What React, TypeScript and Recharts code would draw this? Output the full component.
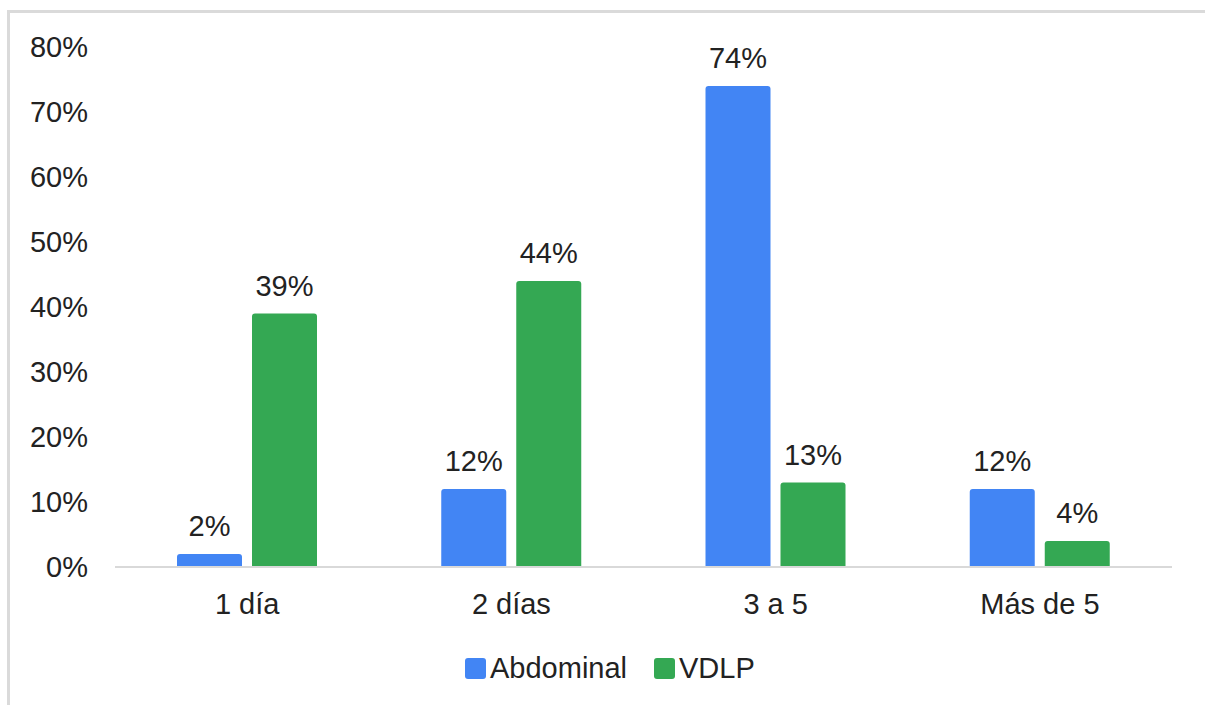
import React from "react";
import { BarChart, Bar, XAxis, YAxis, Legend, LabelList } from "recharts";

const categories = ["1 día", "2 días", "3 a 5", "Más de 5"];
const abdominal = [2, 12, 74, 12];
const vdlp = [39, 44, 13, 4];
const yTicks = [0, 10, 20, 30, 40, 50, 60, 70, 80];

const BLUE = "#4285F4";
const GREEN = "#34A853";
const TEXT = "#222222";
const FONT = "'Liberation Sans', Arial, sans-serif";
const FS = 29;

const data = categories.map((name, i) => ({
  name,
  Abdominal: abdominal[i],
  VDLP: vdlp[i],
}));

const pct = (v: number) => `${v}%`;

// leyenda con cuadros redondeados
const LegendContent = () => (
  <div
    style={{
      display: "flex",
      alignItems: "center",
      fontFamily: FONT,
      fontSize: FS,
      color: TEXT,
      lineHeight: "32px",
      height: 32,
    }}
  >
    {[
      { label: "Abdominal", color: BLUE },
      { label: "VDLP", color: GREEN },
    ].map((item, i) => (
      <div key={item.label} style={{ display: "flex", alignItems: "center", marginLeft: i ? 27 : 0 }}>
        <span
          style={{
            display: "inline-block",
            width: 21,
            height: 21,
            borderRadius: 3,
            background: item.color,
            marginRight: 4,
          }}
        />
        <span>{item.label}</span>
      </div>
    ))}
  </div>
);

export default function App() {
  return (
    <div
      style={{
        position: "absolute",
        left: 0,
        top: 0,
        width: 1205,
        height: 705,
        overflow: "hidden",
        background: "#fff",
      }}
    >
      {/* marco gris */}
      <div
        style={{
          position: "absolute",
          left: 7,
          top: 10,
          width: 1300,
          height: 800,
          borderTop: "3px solid #dadada",
          borderLeft: "3px solid #dadada",
        }}
      />
      <div style={{ position: "absolute", left: 0, top: 0 }}>
        <BarChart
          width={1205}
          height={705}
          data={data}
          margin={{ top: 47, right: 33, bottom: 46, left: 15 }}
          barSize={65}
          barGap={10}
        >
          <XAxis
            dataKey="name"
            tickLine={false}
            tickSize={0}
            tickMargin={26}
            axisLine={{ stroke: "#d9d9d9", strokeWidth: 2 }}
            tick={{ fill: TEXT, fontSize: FS, fontFamily: FONT }}
            height={60}
          />
          <YAxis
            width={100}
            domain={[0, 80]}
            ticks={yTicks}
            tickFormatter={pct}
            axisLine={false}
            tickLine={false}
            tickSize={0}
            tickMargin={27}
            tick={{ fill: TEXT, fontSize: FS, fontFamily: FONT }}
          />
          <Legend
            content={<LegendContent />}
            wrapperStyle={{ left: 465, top: 652, width: "auto" }}
          />
          <Bar dataKey="Abdominal" fill={BLUE} radius={[3, 3, 0, 0]} isAnimationActive={false}>
            <LabelList
              dataKey="Abdominal"
              position="top"
              offset={18}
              formatter={pct}
              style={{ fill: TEXT, fontSize: FS, fontFamily: FONT }}
            />
          </Bar>
          <Bar dataKey="VDLP" fill={GREEN} radius={[3, 3, 0, 0]} isAnimationActive={false}>
            <LabelList
              dataKey="VDLP"
              position="top"
              offset={18}
              formatter={pct}
              style={{ fill: TEXT, fontSize: FS, fontFamily: FONT }}
            />
          </Bar>
        </BarChart>
      </div>
    </div>
  );
}
